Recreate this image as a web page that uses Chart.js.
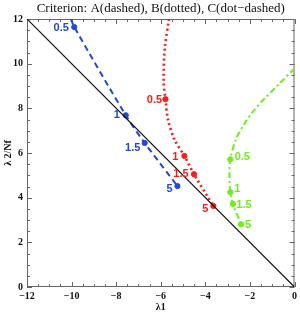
<!DOCTYPE html>
<html>
<head>
<meta charset="utf-8">
<script src="https://cdn.jsdelivr.net/npm/chart.js@4/dist/chart.umd.min.js"></script>
<style>
	html, body { margin: 0; padding: 0; background: #fff; }
	#wrap { width: 300px; height: 316px; }
</style>
</head>
<body>
<div id="wrap"><canvas id="chart"></canvas></div>
<script>
// curves (x = λ1, y = λ2/Nf)
const curveAX = [-10.03, -9.88, -7.57, -6.72, -5.25];
const curveAY = [12, 11.64, 7.69, 6.45, 4.52];

const curveBX = [-5.63, -5.82, -5.87, -5.79, -5.67, -5.37, -4.94, -4.51, -3.64];
const curveBY = [12, 10.69, 9.18, 8.41, 7.47, 6.57, 5.87, 5.05, 3.63];

const curveCX = [0, -0.67, -1.42, -1.87, -2.24, -2.61, -2.88, -2.92, -2.88, -2.76, -2.40];
const curveCY = [9.78, 9.11, 8.36, 7.84, 7.32, 6.65, 5.72, 5.0, 4.25, 3.72, 2.81];

// marked points and their labels
const pointLabels = ['0.5', '1', '1.5', '5'];
const markAX = [-9.88, -7.57, -6.72, -5.25];
const markAY = [11.64, 7.69, 6.45, 4.52];
const markBX = [-5.79, -4.94, -4.51, -3.64];
const markBY = [8.41, 5.87, 5.05, 3.63];
const markCX = [-2.88, -2.88, -2.76, -2.40];
const markCY = [5.72, 4.25, 3.72, 2.81];

// diagonal reference line
const diagX = [-12, 0];
const diagY = [12, 0];

const xTicks = [-12, -10, -8, -6, -4, -2, 0];
const yTicks = [0, 2, 4, 6, 8, 10, 12];

const blue = '#2446dc';
const red = '#ff1a1a';
const green = '#6cf01a';
const serif = '"Liberation Serif", "DejaVu Serif", serif';

function pts(xs, ys) {
	return xs.map((x, i) => ({ x, y: ys[i] }));
}

function curve(xs, ys, color, dash, width) {
	return {
		data: pts(xs, ys),
		showLine: true,
		borderColor: color,
		borderWidth: width,
		borderDash: dash,
		pointRadius: 0,
		tension: 0.3,
		fill: false
	};
}

function marks(xs, ys, color, offs) {
	return {
		data: pts(xs, ys),
		showLine: false,
		backgroundColor: color,
		borderColor: color,
		pointRadius: 2.6,
		pointLabels: pointLabels,
		labelOffsets: offs,
		labelColor: color
	};
}

// label centre offsets (px) from their point
const offsA = [[-13, 1], [-9, 0], [-12, 5], [-8, 3]];
const offsB = [[-11, 1], [-9, 1], [-13, 0], [-8, 3]];
const offsC = [[12, -2], [7, -3], [11, 1], [7, 1]];

const decor = {
	id: 'decor',
	beforeDatasetsDraw(chart) {
		const { ctx, chartArea: a } = chart;
		ctx.save();
		ctx.strokeStyle = '#666';
		ctx.lineWidth = 1;
		ctx.strokeRect(a.left + 0.5, a.top + 0.5, a.right - a.left - 1, a.bottom - a.top - 1);
		const xs = chart.scales.x, ys = chart.scales.y;
		ctx.beginPath();
		for (let v = -12; v <= 0.001; v += 0.5) {
			const len = Math.abs(v % 2) < 0.01 ? 5 : 3;
			const px = Math.round(xs.getPixelForValue(v)) + 0.5;
			ctx.moveTo(px, a.bottom); ctx.lineTo(px, a.bottom - len);
			ctx.moveTo(px, a.top); ctx.lineTo(px, a.top + len);
		}
		for (let v = 0; v <= 12.001; v += 0.5) {
			const len = Math.abs(v % 2) < 0.01 ? 5 : 3;
			const py = Math.round(ys.getPixelForValue(v)) + 0.5;
			ctx.moveTo(a.left, py); ctx.lineTo(a.left + len, py);
			ctx.moveTo(a.right, py); ctx.lineTo(a.right - len, py);
		}
		ctx.stroke();
		ctx.restore();
	},
	afterDraw(chart) {
		const { ctx, chartArea: a } = chart;
		ctx.save();
		ctx.fillStyle = '#111';
		ctx.textAlign = 'center';
		ctx.textBaseline = 'middle';
		ctx.font = '13px ' + serif;
		ctx.fillText('Criterion: A(dashed), B(dotted), C(dot\u2212dashed)', (a.left + a.right) / 2, 9);
		ctx.font = 'bold 10px ' + serif;
		ctx.fillText('\u03bb1', (a.left + a.right) / 2, 307);
		ctx.translate(8, (a.top + a.bottom) / 2);
		ctx.rotate(-Math.PI / 2);
		ctx.fillText('\u03bb 2/Nf', 0, 0);
		ctx.restore();

		ctx.save();
		ctx.font = 'bold 11px "Liberation Sans", Arial, sans-serif';
		ctx.textAlign = 'center';
		ctx.textBaseline = 'middle';
		chart.data.datasets.forEach((ds, di) => {
			if (!ds.pointLabels) return;
			const meta = chart.getDatasetMeta(di);
			ctx.fillStyle = ds.labelColor;
			meta.data.forEach((el, i) => {
				const o = ds.labelOffsets[i];
				ctx.fillText(ds.pointLabels[i], el.x + o[0], el.y + o[1]);
			});
		});
		ctx.restore();
	}
};

const fmt = v => String(v).replace('-', '\u2212');

new Chart(document.getElementById('chart'), {
	type: 'scatter',
	data: {
		datasets: [
			{
				data: pts(diagX, diagY),
				showLine: true,
				borderColor: '#111',
				borderWidth: 1.2,
				pointRadius: 0
			},
			curve(curveAX, curveAY, blue, [6, 4], 2),
			curve(curveBX, curveBY, red, [2, 3], 2.6),
			curve(curveCX, curveCY, green, [6, 3, 2, 3], 2),
			marks(markAX, markAY, blue, offsA),
			marks(markBX, markBY, red, offsB),
			marks(markCX, markCY, green, offsC)
		]
	},
	options: {
		responsive: true,
		maintainAspectRatio: false,
		animation: false,
		layout: { padding: { top: 19, right: 5, left: 0, bottom: 0 } },
		plugins: {
			legend: { display: false },
			title: { display: false },
			tooltip: { enabled: false }
		},
		scales: {
			x: {
				type: 'linear',
				min: -12,
				max: 0,
				afterFit: s => { s.height = 29; },
				afterBuildTicks: s => { s.ticks = xTicks.map(value => ({ value })); },
				grid: { display: false, drawTicks: false },
				border: { display: false },
				ticks: {
					color: '#111',
					padding: 3,
					maxRotation: 0,
					font: { family: serif, size: 10, weight: 'bold' },
					callback: fmt
				}
			},
			y: {
				type: 'linear',
				min: 0,
				max: 12,
				afterFit: s => { s.width = 27; },
				afterBuildTicks: s => { s.ticks = yTicks.map(value => ({ value })); },
				grid: { display: false, drawTicks: false },
				border: { display: false },
				ticks: {
					color: '#111',
					padding: 4,
					font: { family: serif, size: 10, weight: 'bold' },
					callback: fmt
				}
			}
		}
	},
	plugins: [decor]
});
</script>
</body>
</html>
